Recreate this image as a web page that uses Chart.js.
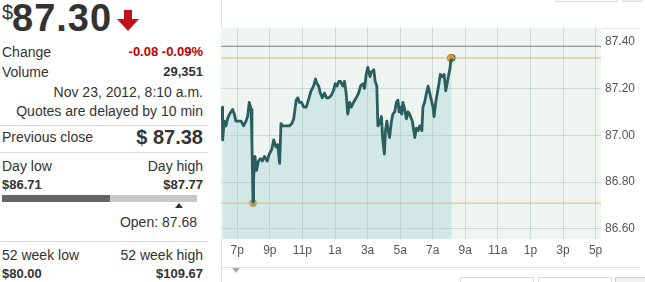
<!DOCTYPE html>
<html><head><meta charset="utf-8">
<script src="https://cdn.jsdelivr.net/npm/chart.js@4/dist/chart.umd.min.js"></script>
<style>
html,body{margin:0;padding:0;background:#fff;}
body{width:645px;height:282px;position:relative;overflow:hidden;font-family:"Liberation Sans",Arial,sans-serif;color:#333;}
.t{position:absolute;font-size:14px;line-height:16px;white-space:nowrap;}
.l{left:2px;}
.r{right:442px;text-align:right;}
.b{font-weight:bold;}
.sep{position:absolute;left:0;width:208px;height:1px;background:#dcdcdc;}
#chartbox{position:absolute;left:221px;top:28px;width:424px;height:234px;}
</style></head><body>
<div class="t" style="left:2px;top:1px;font-size:20px;line-height:22px;">$</div>
<div class="t b" style="left:12px;top:-2px;font-size:38px;line-height:40px;letter-spacing:1px;">87.30</div>
<svg style="position:absolute;left:116px;top:10px" width="24" height="21" viewBox="0 0 24 21"><polygon points="8,0 16,0 16,9 23,9 12,21 1,9 8,9" fill="#c0141c"/></svg>
<div class="t l" style="top:44px;">Change</div>
<div class="t r b" style="top:44px;color:#c00000;font-size:13px;">-0.08 -0.09%</div>
<div class="t l" style="top:64px;">Volume</div>
<div class="t r b" style="top:64px;font-size:13px;">29,351</div>
<div class="t r" style="top:84px;">Nov 23, 2012, 8:10 a.m.</div>
<div class="t r" style="top:103px;">Quotes are delayed by 10 min</div>
<div class="sep" style="top:125px;"></div>
<div class="t l" style="top:129px;">Previous close</div>
<div class="t r b" style="top:126px;font-size:20px;line-height:22px;">$ 87.38</div>
<div class="sep" style="top:152px;"></div>
<div class="t l" style="top:158px;">Day low</div>
<div class="t r" style="top:158px;">Day high</div>
<div class="t l b" style="top:177px;font-size:13px;">$86.71</div>
<div class="t r b" style="top:177px;font-size:13px;">$87.77</div>
<div style="position:absolute;left:2px;top:195px;width:108px;height:7px;background:#666;"></div>
<div style="position:absolute;left:110px;top:195px;width:87px;height:7px;background:#c8c8c8;"></div>
<div style="position:absolute;left:175px;top:203px;width:0;height:0;border-left:4px solid transparent;border-right:4px solid transparent;border-bottom:5px solid #333;"></div>
<div class="t" style="right:448px;top:214px;">Open: 87.68</div>
<div class="sep" style="top:241px;"></div>
<div class="t l" style="top:247px;">52 week low</div>
<div class="t r" style="top:247px;">52 week high</div>
<div class="t l b" style="top:266px;font-size:13px;">$80.00</div>
<div class="t r b" style="top:266px;font-size:13px;">$109.67</div>

<div style="position:absolute;left:221px;top:0;width:1px;height:282px;background:#e2e2e2;"></div>
<div style="position:absolute;left:221px;top:28px;width:419px;height:1px;background:#e4e4e4;"></div>
<div style="position:absolute;left:555px;top:-2px;width:60px;height:2px;border:1px solid #ddd;"></div>
<div style="position:absolute;left:622px;top:-2px;width:18px;height:2px;border:1px solid #ddd;background:#eee;"></div>
<div style="position:absolute;left:221px;top:267px;width:419px;height:1px;background:#e0e0e0;"></div>
<div style="position:absolute;left:232px;top:268px;width:0;height:0;border-left:4px solid transparent;border-right:4px solid transparent;border-top:5px solid #aaa;"></div>
<div style="position:absolute;left:460px;top:277px;width:72px;height:10px;border:1px solid #ddd;"></div>
<div style="position:absolute;left:538px;top:277px;width:72px;height:10px;border:1px solid #ddd;"></div>
<div style="position:absolute;left:615px;top:277px;width:30px;height:10px;border:1px solid #ccc;background:#f2f2f2;"></div>
<div id="chartbox"><canvas id="c" width="424" height="234"></canvas></div>
<script>
// minutes after 6:00 p.m. (Nov 22) and traded price
const times = [5,6,12,18,24,31,37,43,49,55,64,74,83,92,98,104,111,114,118,120,125,131,138,145,153,160,170,178,187,194,203,209,216,221,227,234,244,252,261,268,277,283,289,297,305,314,322,332,341,348,354,360,366,373,381,389,397,406,414,421,428,434,440,449,455,461,467,474,480,488,498,507,514,523,529,535,541,549,554,563,568,574,578,584,591,596,602,606,611,616,621,628,633,640,646,652,656,661,666,670,677,683,689,695,705,714,720,726,732,740,744,750,757,763,769,775,781,785,791,797,803,808,816,822,828,833,839,843,846,850];
const prices = [87.12,86.98,87.06,87.04,87.07,87.09,87.10,87.11,87.09,87.06,87.06,87.06,87.04,87.06,87.08,87.14,87.11,86.97,86.71,86.81,86.91,86.85,86.89,86.90,86.89,86.91,86.89,86.92,86.94,86.98,86.95,86.96,86.88,87.05,87.04,87.04,87.04,87.04,87.05,87.07,87.15,87.16,87.14,87.14,87.12,87.12,87.15,87.19,87.21,87.24,87.22,87.21,87.18,87.16,87.18,87.16,87.16,87.17,87.19,87.22,87.21,87.23,87.23,87.21,87.23,87.18,87.09,87.14,87.12,87.14,87.16,87.18,87.21,87.22,87.20,87.26,87.29,87.25,87.27,87.28,87.23,87.21,87.04,87.05,87.08,86.98,86.92,87.02,87.06,87.02,86.99,87.06,87.09,87.10,87.14,87.15,87.10,87.12,87.09,87.14,87.11,87.07,87.10,87.09,87.06,86.99,87.03,87.02,87.04,87.02,87.12,87.14,87.18,87.21,87.18,87.15,87.12,87.08,87.14,87.18,87.22,87.26,87.25,87.26,87.19,87.22,87.26,87.28,87.31,87.33];
const xTickMinutes = [60,180,300,420,540,660,780,900,1020,1140,1260,1380];
const xTickLabels = ['7p','9p','11p','1a','3a','5a','7a','9a','11a','1p','3p','5p'];
const yTicks = [86.6,86.8,87.0,87.2,87.4];
const prevClose = 87.38;
const lowMark = {t:118, p:86.71};
const highMark = {t:846, p:87.33};
const lastMark = {t:850, p:87.33};
const xMin = 0, xMax = 1400, yMin = 86.557, yMax = 87.458;

const lineData = times.map((t,i)=>({x:t,y:prices[i]}));
const bgPlugin = {id:'bg',beforeDraw(ch){const a=ch.chartArea,c=ch.ctx;c.save();c.fillStyle='#eef5f1';c.fillRect(a.left,a.top,a.right-a.left,a.bottom-a.top);c.restore();}};
function noPad(s){s.paddingTop=0;s.paddingBottom=0;s.paddingLeft=0;s.paddingRight=0;}
new Chart(document.getElementById('c'),{
  type:'line',
  data:{datasets:[
    {data:[{x:xMin,y:prevClose},{x:xMax,y:prevClose}],borderColor:'#7d7d7d',borderWidth:1,pointRadius:0,fill:false},
    {data:[{x:xMin,y:highMark.p},{x:xMax,y:highMark.p}],borderColor:'rgba(228,168,100,0.85)',borderWidth:1,pointRadius:0,fill:false},
    {data:[{x:xMin,y:lowMark.p},{x:xMax,y:lowMark.p}],borderColor:'rgba(228,168,100,0.85)',borderWidth:1,pointRadius:0,fill:false},
    {data:lineData,borderColor:'#2a5e5e',borderWidth:2.8,pointRadius:0,tension:0,fill:'start',backgroundColor:'rgba(151,205,208,0.32)',borderJoinStyle:'round'},
    {data:[{x:lowMark.t,y:lowMark.p},{x:highMark.t,y:highMark.p}],showLine:false,pointRadius:3.5,pointBackgroundColor:'#e39a2a',pointBorderColor:'#c98420',pointBorderWidth:1},
    {data:[{x:lastMark.t,y:lastMark.p}],showLine:false,pointRadius:3.5,pointBackgroundColor:'#2a5e5e',pointBorderColor:'#2a5e5e'}
  ]},
  options:{
    responsive:false,animation:false,
    layout:{padding:0,autoPadding:false},
    plugins:{legend:{display:false},tooltip:{enabled:false}},
    scales:{
      x:{type:'linear',min:xMin,max:xMax,
        afterBuildTicks(s){s.ticks=xTickMinutes.map(v=>({value:v}));},
        afterFit(s){s.height=23;noPad(s);},
        border:{display:false},
        grid:{color:'rgba(150,172,165,0.38)',drawTicks:false},
        ticks:{autoSkip:false,maxRotation:0,padding:4,color:'#555',font:{family:'"Liberation Sans",Arial,sans-serif',size:12},
          callback:(v,i)=>xTickLabels[i]}},
      y:{position:'right',min:yMin,max:yMax,
        afterBuildTicks(s){s.ticks=yTicks.map(v=>({value:v}));},
        afterFit(s){s.width=44;noPad(s);},
        border:{display:false},
        grid:{color:(c)=>c.tick && c.tick.value>87.3?'rgba(0,0,0,0)':'rgba(150,172,165,0.38)',drawTicks:false},
        ticks:{padding:4,color:'#555',font:{family:'"Liberation Sans",Arial,sans-serif',size:12},
          callback:(v)=>Number(v).toFixed(2)}}
    }
  },
  plugins:[bgPlugin]
});
</script>
</body></html>
